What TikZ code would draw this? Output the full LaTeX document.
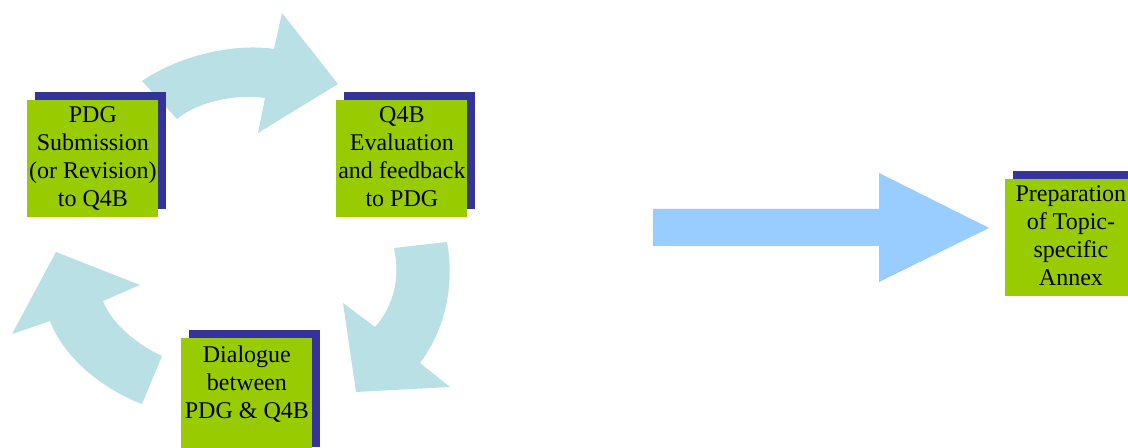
\documentclass[tikz,border=0pt]{standalone}
\usepackage{fontspec}
\setmainfont{Liberation Serif}
\usetikzlibrary{shadows}
\definecolor{boxgreen}{HTML}{99CC00}
\definecolor{shadowblue}{HTML}{333399}
\definecolor{cyclearrow}{HTML}{B9E0E4}
\definecolor{bigarrow}{HTML}{99CCFF}
\newcommand\boxtxt[1]{\parbox[c][58.5pt][t]{65.5pt}{\centering\rule{0pt}{11pt}#1}}
\begin{document}
\begin{tikzpicture}[x=0.5pt,y=-0.5pt,
  stepbox/.style={fill=boxgreen, inner sep=0pt, anchor=north west,
    font=\fontsize{12}{14}\selectfont,
    general shadow={fill=shadowblue, shadow xshift=4pt, shadow yshift=4pt}},
  cyc/.style={fill=cyclearrow},
  big/.style={fill=bigarrow}]
\useasboundingbox (0,0) rectangle (1128,448);
\clip (0,0) rectangle (1128,448);
% cycle arrows
\fill[cyc] (142,81) .. controls (180,55) and (235,43) .. (274,49) -- (282,13) -- (338,84) -- (258,133) -- (265,98) .. controls (240,94) and (200,100) .. (177,119) -- cycle;
\fill[cyc] (447,242) .. controls (455,285) and (445,330) .. (420,363) -- (450,387) -- (356,392) -- (343,303) -- (375,327) .. controls (395,305) and (400,275) .. (394,248) -- cycle;
\fill[cyc] (142,404) .. controls (105,390) and (65,360) .. (50,321) -- (12,334) -- (56,252) -- (140,285) -- (103,301) .. controls (112,325) and (140,346) .. (162,356) -- cycle;
% big arrow
\fill[big] (653,209) -- (879,209) -- (879,173) -- (989,228) -- (879,282) -- (879,246) -- (653,246) -- cycle;
% boxes
\node[stepbox] (sub) at (27,100) {\boxtxt{PDG\\Submission\\(or Revision)\\to Q4B}};
\node[stepbox] (eval) at (336,100) {\boxtxt{Q4B\\Evaluation\\and feedback\\to PDG}};
\node[stepbox] (dia) at (181,338) {\boxtxt{\rule{0pt}{12pt}Dialogue\\between\\PDG \& Q4B}};
\node[stepbox] (prep) at (1005,179) {\boxtxt{Preparation\\of Topic-\\specific\\Annex}};
\end{tikzpicture}
\end{document}
